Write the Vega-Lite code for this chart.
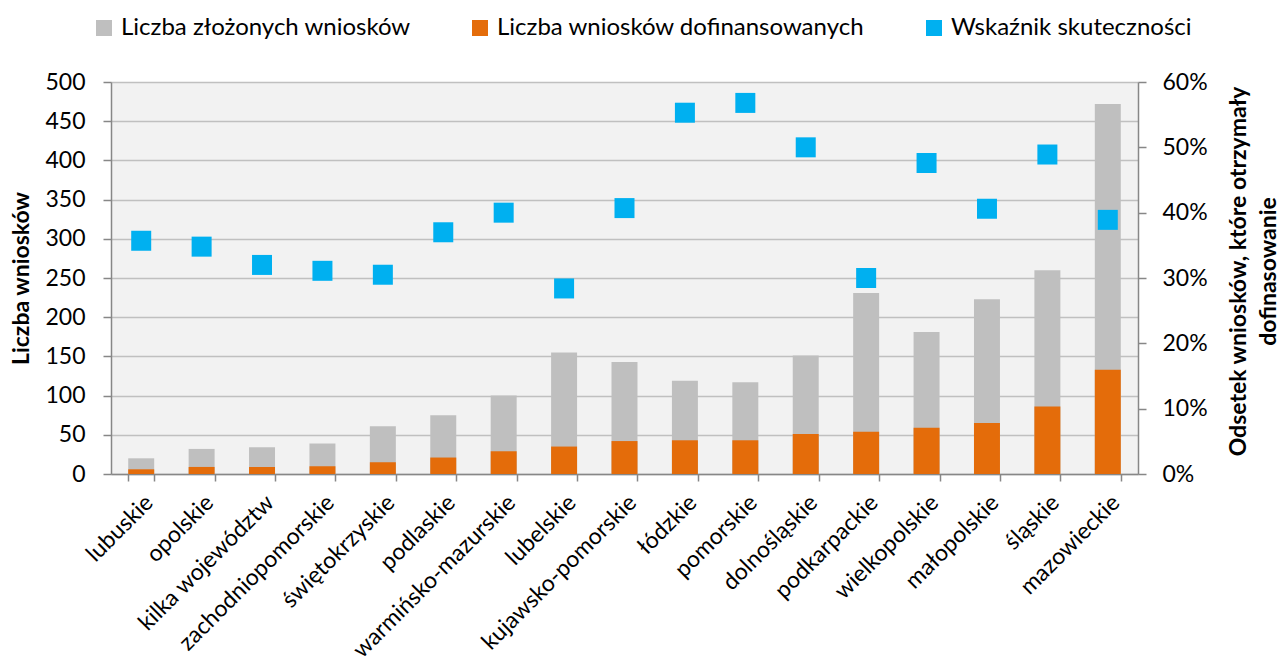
{
  "$schema": "https://vega.github.io/schema/vega-lite/v6.json",
  "width": 1027,
  "height": 392,
  "autosize": {"type": "none"},
  "padding": {"left": 111, "top": 82, "right": 141, "bottom": 197},
  "background": "white",
  "config": {
    "font": "Lato",
    "view": {"fill": "#f2f2f2", "stroke": null},
    "axis": {
      "labelFont": "Lato",
      "titleFont": "Lato",
      "labelFontSize": 23,
      "labelColor": "#000000",
      "titleFontSize": 23,
      "titleFontWeight": "bold",
      "titleColor": "#000000",
      "domainColor": "#878787",
      "domainWidth": 1.5,
      "tickColor": "#878787",
      "tickWidth": 1.5,
      "tickSize": 8,
      "gridColor": "#c0c0c0",
      "gridWidth": 1.5
    },
    "legend": {
      "labelFont": "Lato",
      "labelFontSize": 24,
      "labelColor": "#000000",
      "labelLimit": 0
    }
  },
  "data": {
    "values": [
      {"region": "lubuskie", "total": 20, "funded": 6, "rate": 0.357},
      {"region": "opolskie", "total": 32, "funded": 9, "rate": 0.348},
      {"region": "kilka województw", "total": 34, "funded": 9, "rate": 0.320},
      {"region": "zachodniopomorskie", "total": 39, "funded": 10, "rate": 0.311},
      {"region": "świętokrzyskie", "total": 61, "funded": 15, "rate": 0.305},
      {"region": "podlaskie", "total": 75, "funded": 21, "rate": 0.370},
      {"region": "warmińsko-mazurskie", "total": 100, "funded": 29, "rate": 0.400},
      {"region": "lubelskie", "total": 155, "funded": 35, "rate": 0.284},
      {"region": "kujawsko-pomorskie", "total": 143, "funded": 42, "rate": 0.407},
      {"region": "łódzkie", "total": 119, "funded": 43, "rate": 0.553},
      {"region": "pomorskie", "total": 117, "funded": 43, "rate": 0.568},
      {"region": "dolnośląskie", "total": 151, "funded": 51, "rate": 0.500},
      {"region": "podkarpackie", "total": 231, "funded": 54, "rate": 0.300},
      {"region": "wielkopolskie", "total": 181, "funded": 59, "rate": 0.476},
      {"region": "małopolskie", "total": 223, "funded": 65, "rate": 0.406},
      {"region": "śląskie", "total": 260, "funded": 86, "rate": 0.489},
      {"region": "mazowieckie", "total": 472, "funded": 133, "rate": 0.389}
    ]
  },
  "encoding": {
    "x": {
      "field": "region",
      "type": "nominal",
      "sort": null,
      "scale": {"paddingInner": 0.57, "paddingOuter": 0.285},
      "axis": {
        "title": null,
        "labelAngle": -45,
        "labelPadding": 10,
        "tickBand": "extent",
        "tickSize": 7,
        "labelLimit": 0
      }
    }
  },
  "layer": [
    {
      "mark": {"type": "bar"},
      "encoding": {
        "y": {
          "field": "total",
          "type": "quantitative",
          "scale": {"domain": [0, 500], "nice": false},
          "axis": {
            "orient": "left",
            "title": "Liczba wniosków",
            "values": [0, 50, 100, 150, 200, 250, 300, 350, 400, 450, 500],
            "labelPadding": 18,
            "titleX": -90,
            "titleY": 196,
            "titleBaseline": "middle",
            "grid": true
          }
        },
        "color": {
          "datum": "Liczba złożonych wniosków",
          "type": "nominal",
          "scale": {
            "domain": ["Liczba złożonych wniosków", "Liczba wniosków dofinansowanych", "Wskaźnik skuteczności"],
            "range": ["#bfbfbf", "#e46c0a", "#00b0f0"]
          },
          "legend": {
            "title": null,
            "orient": "none",
            "legendX": -19,
            "legendY": -66,
            "direction": "horizontal",
            "symbolType": "square",
            "symbolSize": 256,
            "symbolStrokeWidth": 0,
            "columnPadding": 57,
            "labelOffset": 5
          }
        }
      }
    },
    {
      "mark": {"type": "bar"},
      "encoding": {
        "y": {
          "field": "funded",
          "type": "quantitative",
          "scale": {"domain": [0, 500], "nice": false},
          "axis": null
        },
        "color": {"datum": "Liczba wniosków dofinansowanych", "type": "nominal"}
      }
    },
    {
      "mark": {"type": "point", "shape": "square", "filled": true, "size": 400, "opacity": 1},
      "encoding": {
        "y": {
          "field": "rate",
          "type": "quantitative",
          "scale": {"domain": [0, 0.6], "nice": false},
          "axis": {
            "orient": "right",
            "title": ["Odsetek wniosków, które otrzymały", "dofinasowanie"],
            "titleAngle": -90,
            "titleBaseline": "middle",
            "titleLineHeight": 30,
            "titleX": 100,
            "titleY": 189,
            "format": ".0%",
            "values": [0, 0.1, 0.2, 0.3, 0.4, 0.5, 0.6],
            "labelPadding": 16,
            "grid": false
          }
        },
        "color": {"datum": "Wskaźnik skuteczności", "type": "nominal"}
      }
    }
  ],
  "resolve": {"scale": {"y": "independent"}}
}
